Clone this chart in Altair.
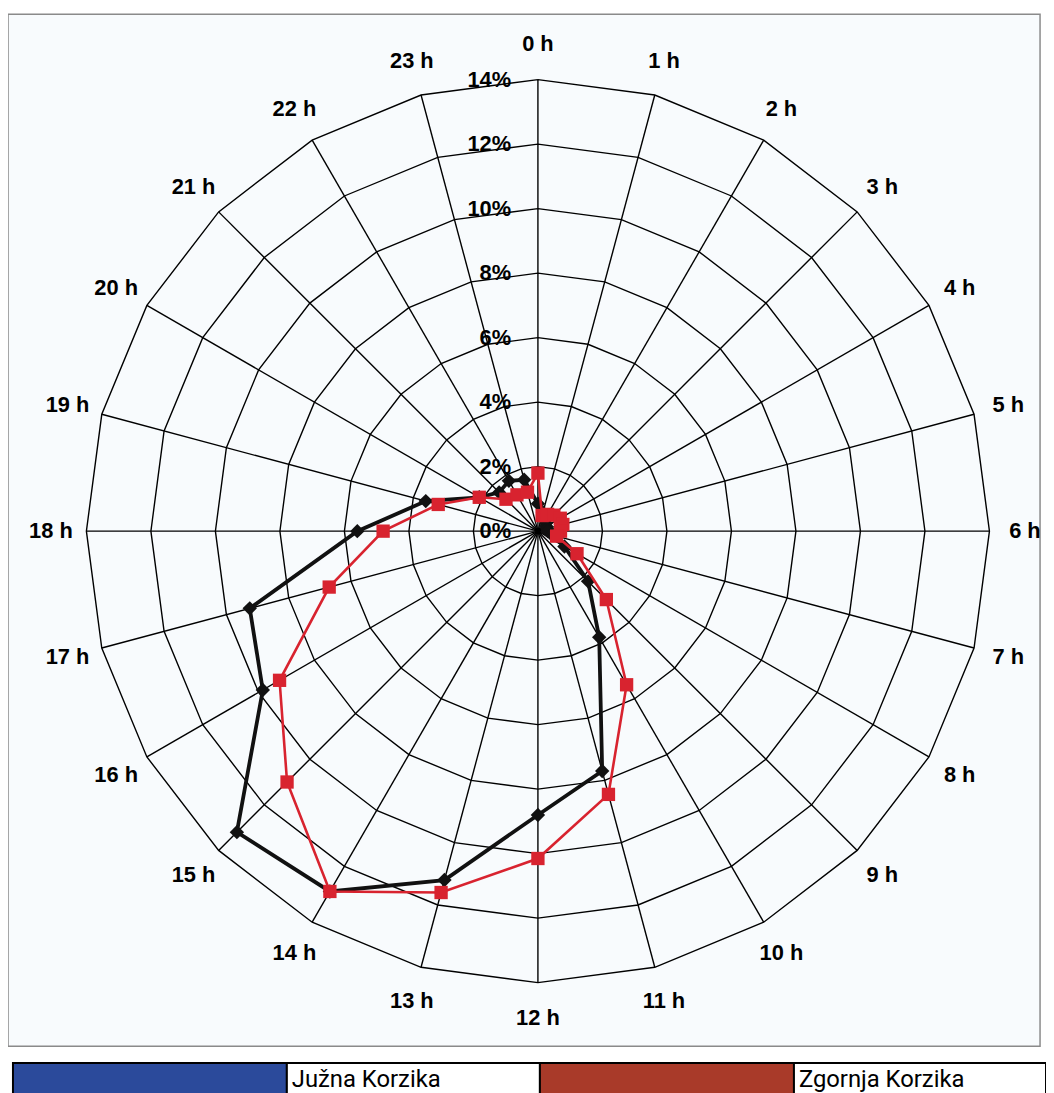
import altair as alt
import pandas as pd

# ---------------- data ----------------
hours = list(range(24))
hour_labels = [f"{h} h" for h in hours]
juzna = [0.85, 0.6, 0.45, 0.35, 0.3, 0.3, 0.3, 0.45, 0.95, 2.2, 3.8, 7.7,
         8.8, 11.2, 12.9, 13.2, 9.85, 9.25, 5.6, 3.6, 2.1, 1.7, 1.8, 1.65]
zgornja = [1.8, 0.5, 0.6, 0.7, 0.8, 0.8, 0.7, 0.6, 1.4, 3.0, 5.5, 8.45,
           10.15, 11.6, 12.9, 11.0, 9.25, 6.7, 4.8, 3.2, 2.1, 1.4, 1.3, 1.25]
ring_levels = [0, 2, 4, 6, 8, 10, 12, 14]
ring_labels = [f"{v}%" for v in ring_levels]
series_names = ["Južna Korzika", "Zgornja Korzika"]
legend_colors = ["#2b4a9b", "#a93a29"]

# ---------------- layout ----------------
W, H = 1046, 1085
CX, CY = 542, 531          # page position of the pole
K = 32.5                   # pixels per 1 %
XMIN, XMAX = -(CX - 8) / K, (8 + W - CX) / K
YMIN, YMAX = -(8 + H - CY) / K, (CY - 8) / K
LABEL_R = 15.1
RMAX = max(ring_levels)

xs = alt.Scale(domain=[XMIN, XMAX], nice=False, zero=False)
ys = alt.Scale(domain=[YMIN, YMAX], nice=False, zero=False)
X = lambda f: alt.X(f, type="quantitative", scale=xs, axis=None)
Y = lambda f: alt.Y(f, type="quantitative", scale=ys, axis=None)

px = "datum.v * sin(datum.h * PI / 12)"
py = "datum.v * cos(datum.h * PI / 12)"

# tables built from the arrays
rows = []
for name, vals in zip(series_names, [juzna, zgornja]):
    for h in hours + [24]:
        rows.append({"series": name, "h": h, "v": vals[h % 24]})
series_df = pd.DataFrame(rows)

grid_df = pd.DataFrame([{"lev": lv, "h": h, "v": lv}
                        for lv in ring_levels[1:] for h in hours + [24]])
spoke_df = pd.DataFrame({"h": hours, "v": [RMAX] * 24})
pct_df = pd.DataFrame({"v": ring_levels, "h": [0] * len(ring_levels), "label": ring_labels})
hour_df = pd.DataFrame({"h": hours, "v": [LABEL_R] * 24, "label": hour_labels})
one = pd.DataFrame({"a": [0]})

frame = alt.Chart(one).mark_rect(fill="#f8fbfd", stroke="#8a8a8a", strokeWidth=1.5).encode(
    x=alt.value(0), x2=alt.value(1040), y=alt.value(2), y2=alt.value(1042))

rings = alt.Chart(grid_df).transform_calculate(x=px, y=py).mark_line(
    color="black", strokeWidth=1.4).encode(x=X("x"), y=Y("y"), detail="lev:N", order="h:Q")

spokes = alt.Chart(spoke_df).transform_calculate(x=px, y=py, x0="0", y0="0").mark_rule(
    color="black", strokeWidth=1.4).encode(x=X("x0"), y=Y("y0"), x2="x:Q", y2="y:Q")

pct = alt.Chart(pct_df).transform_calculate(x=px, y=py).mark_text(
    align="right", baseline="middle", dx=-27, fontSize=22, fontWeight="bold",
    font="Liberation Sans", color="black").encode(x=X("x"), y=Y("y"), text="label:N")

hlab = alt.Chart(hour_df).transform_calculate(x=px, y=py).mark_text(
    align="center", baseline="middle", fontSize=22, fontWeight="bold",
    font="Liberation Sans", color="black").encode(x=X("x"), y=Y("y"), text="label:N")

def series_layers(name, color, width, shape, size):
    base = alt.Chart(series_df).transform_filter(alt.datum.series == name).transform_calculate(x=px, y=py)
    line = base.mark_line(color=color, strokeWidth=width).encode(x=X("x"), y=Y("y"), order="h:Q")
    pts = base.transform_filter("datum.h < 24").mark_point(
        shape=shape, size=size, filled=True, color=color, opacity=1).encode(x=X("x"), y=Y("y"))
    return [line, pts]

black = series_layers(series_names[0], "#111111", 3.8, "diamond", 210)
red = series_layers(series_names[1], "#d8232f", 2.6, "square", 180)

# legend row (table-like, as in the figure)
legend_layers = []
cells = [(5, 281), (281, 536), (536, 792), (792, 1046)]
for i, name in enumerate(series_names):
    c0, c1 = cells[2 * i], cells[2 * i + 1]
    legend_layers.append(alt.Chart(one).mark_rect(
        fill=legend_colors[i], stroke="black", strokeWidth=2).encode(
        x=alt.value(c0[0]), x2=alt.value(c0[1]), y=alt.value(1059), y2=alt.value(1095)))
    legend_layers.append(alt.Chart(one).mark_rect(
        fill="white", stroke="black", strokeWidth=2).encode(
        x=alt.value(c1[0]), x2=alt.value(c1[1]), y=alt.value(1059), y2=alt.value(1095)))
    legend_layers.append(alt.Chart(pd.DataFrame({"t": [name]})).mark_text(
        align="left", baseline="alphabetic", fontSize=24,
        font="Roboto", color="black").encode(
        x=alt.value(c1[0] + 5), y=alt.value(1083), text="t:N"))

chart = alt.layer(frame, rings, spokes, pct, hlab, *black, *red, *legend_layers).properties(
    width=W, height=H, padding=0, background="white",
    autosize=alt.AutoSizeParams(type="none")
).configure_view(stroke=None)

chart.save("out.html", embed_options={"renderer": "svg", "actions": False})
